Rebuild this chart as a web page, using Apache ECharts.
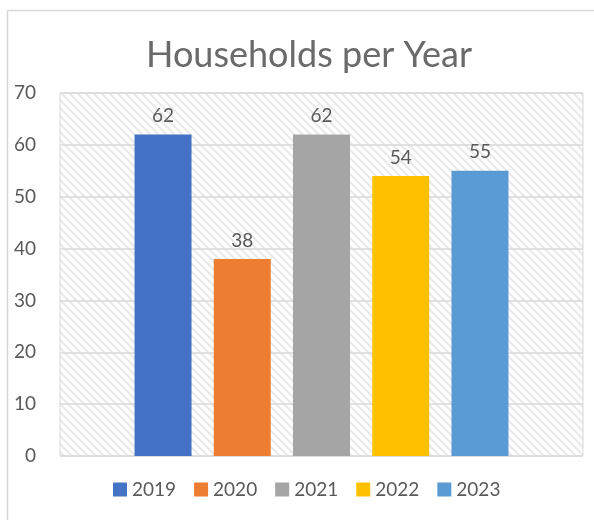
<!DOCTYPE html>
<html>
<head>
<meta charset="utf-8">
<script src="https://cdn.jsdelivr.net/npm/echarts@6/dist/echarts.min.js"></script>
<style>
  html, body { margin: 0; padding: 0; background: #fff; }
  #chart { width: 594px; height: 520px; }
</style>
</head>
<body>
<div id="chart"></div>
<script>
const years = ['2019', '2020', '2021', '2022', '2023']
const households = [62, 38, 62, 54, 55]
const colors = ['#4472c4', '#ed7d31', '#a5a5a5', '#ffc000', '#5b9bd5']

const chart = echarts.init(document.getElementById('chart'))

// diagonal hatch for the plot area, like Excel's light pattern fill
const hatch = document.createElement('canvas')
hatch.width = 8
hatch.height = 8
const ctx = hatch.getContext('2d')
ctx.fillStyle = '#ffffff'
ctx.fillRect(0, 0, 8, 8)
ctx.strokeStyle = '#e9e9e9'
ctx.lineWidth = 2.2
ctx.beginPath()
ctx.moveTo(-2, -2); ctx.lineTo(10, 10)
ctx.moveTo(-10, -2); ctx.lineTo(2, 10)
ctx.moveTo(6, -2); ctx.lineTo(18, 10)
ctx.stroke()

const textColor = '#595959'
const font = 'Lato'

chart.setOption({
  animation: false,
  textStyle: { fontFamily: font },
  title: {
    text: 'Households per Year',
    left: 304,
    textAlign: 'center',
    top: 32,
    textStyle: { color: '#6a6a6a', fontSize: 36, fontWeight: 'normal', fontFamily: font },
  },
  graphic: [
    {
      type: 'rect',
      shape: { x: 7.5, y: 10.5, width: 620, height: 540 },
      style: { fill: 'none', stroke: '#d9d9d9', lineWidth: 1.5 },
      silent: true,
    },
  ],
  legend: {
    bottom: 16,
    left: 108,
    itemWidth: 14,
    itemHeight: 14,
    itemGap: 18,
    icon: 'rect',
    textStyle: { color: textColor, fontSize: 19, fontFamily: font },
    data: years,
  },
  grid: {
    left: 60,
    right: 11,
    top: 93,
    bottom: 64,
    show: true,
    backgroundColor: { image: hatch, repeat: 'repeat' },
    borderColor: '#d9d9d9',
    borderWidth: 1,
  },
  xAxis: {
    type: 'category',
    data: [''],
    axisLine: { show: false },
    axisTick: { show: false },
    axisLabel: { show: false },
  },
  yAxis: {
    type: 'value',
    min: 0,
    max: 70,
    interval: 10,
    axisLine: { show: false },
    axisTick: { show: false },
    axisLabel: { color: textColor, fontSize: 19, margin: 24, fontFamily: font },
    splitLine: { lineStyle: { color: '#d9d9d9', width: 1.5 } },
  },
  series: years.map((y, i) => ({
    name: y,
    type: 'bar',
    data: [households[i]],
    barWidth: 57,
    barGap: '39%',
    itemStyle: { color: colors[i] },
    label: {
      show: true,
      position: 'top',
      distance: 9,
      color: textColor,
      fontSize: 19,
      fontFamily: font,
    },
  })),
})
</script>
</body>
</html>
